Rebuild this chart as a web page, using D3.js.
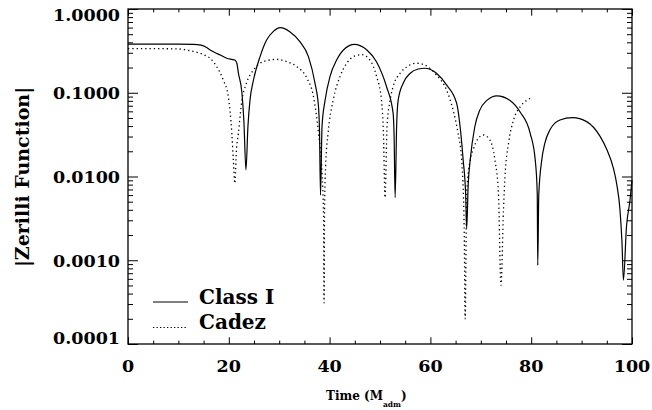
<!DOCTYPE html>
<html>
<head>
<meta charset="utf-8">
<script src="https://cdn.jsdelivr.net/npm/d3@7"></script>
<style>
  html, body { margin: 0; padding: 0; background: #fff; }
  svg { display: block; }
  text { font-family: "DejaVu Serif", serif; font-weight: bold; fill: #000; }
</style>
</head>
<body>
<svg id="chart" width="652" height="410"></svg>
<script>
// ---- data ----
const classTime = [0, 5, 10, 13, 14.5, 15.5, 16.3, 17.3, 18.3, 19.6, 20.6, 21.2, 21.6, 21.9, 22.6, 23.0, 23.4, 23.8, 24.2, 24.9, 26.2, 27.5, 28.8, 30.2, 32.1, 34.1, 35.8, 37.1, 37.8, 38.0, 38.2, 38.5, 39.1, 40.1, 41.4, 43.1, 44.9, 47.4, 49.3, 51.3, 52.6, 52.8, 53.0, 53.3, 53.6, 54.6, 56.0, 57.6, 58.9, 61.2, 63.2, 65.2, 65.9, 66.5, 67.0, 67.2, 67.5, 67.9, 68.8, 69.8, 71.2, 73.2, 75.8, 77.8, 79.8, 80.8, 81.2, 81.3, 81.5, 82.1, 82.7, 83.7, 85.7, 88.2, 91.0, 93.7, 95.0, 96.3, 97.0, 97.6, 98.0, 98.3, 98.9, 99.6, 100];
const classValue = [0.38, 0.38, 0.38, 0.379, 0.37, 0.35, 0.324, 0.3, 0.282, 0.258, 0.25, 0.246, 0.225, 0.172, 0.1, 0.045, 0.012, 0.04, 0.081, 0.142, 0.27, 0.426, 0.536, 0.598, 0.536, 0.407, 0.27, 0.13, 0.068, 0.034, 0.006, 0.04, 0.081, 0.158, 0.246, 0.34, 0.379, 0.324, 0.235, 0.118, 0.057, 0.03, 0.0056, 0.04, 0.081, 0.13, 0.171, 0.192, 0.196, 0.171, 0.124, 0.075, 0.039, 0.0158, 0.006, 0.0024, 0.008, 0.0158, 0.039, 0.062, 0.081, 0.092, 0.081, 0.059, 0.0328, 0.0158, 0.0063, 0.00087, 0.006, 0.0158, 0.0249, 0.0359, 0.0473, 0.0504, 0.0452, 0.0299, 0.021, 0.0126, 0.0079, 0.0041, 0.0017, 0.00058, 0.0025, 0.0052, 0.009];

const cadezTime = [0, 5, 10.3, 11.6, 13, 14.3, 15.3, 16.3, 17.6, 18.9, 19.9, 20.6, 20.9, 21.2, 21.5, 21.9, 22.6, 23.5, 24.9, 26.8, 29.5, 31.5, 33.5, 35.5, 36.8, 37.8, 38.5, 38.8, 38.9, 39.0, 39.2, 39.7, 40.7, 42.1, 43.4, 45.0, 46.4, 48.0, 49.3, 50.3, 50.7, 51.0, 51.4, 52.0, 52.6, 54.0, 55.6, 57.3, 58.9, 61.2, 63.2, 64.5, 65.4, 66.2, 66.7, 66.9, 67.2, 67.9, 68.5, 69.5, 70.5, 71.8, 72.8, 73.5, 74.0, 74.5, 74.8, 75.5, 76.5, 77.8, 79.1, 79.8];
const cadezValue = [0.336, 0.336, 0.333, 0.324, 0.312, 0.296, 0.28, 0.258, 0.205, 0.142, 0.09, 0.0328, 0.0158, 0.0083, 0.02, 0.0328, 0.081, 0.13, 0.187, 0.235, 0.25, 0.235, 0.205, 0.149, 0.09, 0.0328, 0.011, 0.0033, 0.00031, 0.004, 0.013, 0.0328, 0.081, 0.158, 0.225, 0.275, 0.285, 0.246, 0.158, 0.081, 0.03, 0.0056, 0.04, 0.081, 0.118, 0.171, 0.209, 0.225, 0.214, 0.163, 0.108, 0.062, 0.035, 0.0158, 0.0025, 0.0002, 0.0063, 0.0158, 0.021, 0.0286, 0.0313, 0.0273, 0.0158, 0.0063, 0.0005, 0.004, 0.01, 0.0249, 0.0473, 0.068, 0.081, 0.0855];

const xTickLabels = [0, 20, 40, 60, 80, 100];
const yTickLabels = [0.0001, 0.001, 0.01, 0.1, 1];
const seriesNames = ["Class I", "Cadez"];

// ---- layout ----
const svg = d3.select("#chart");
const L = 128, R = 632, T = 9, B = 344;
const x = d3.scaleLinear().domain([0, 100]).range([L, R]);
const y = d3.scaleLog().domain([0.0001, 1]).range([B, T]);

// minor ticks
const yMinor = [];
yTickLabels.slice(0, -1).forEach(d => { for (let k = 2; k <= 9; k++) yMinor.push(d * k); });
const xMinor = d3.range(0, 101, 5).filter(v => v % 20 !== 0);

const g = svg.append("g");

function styleAxis(sel) {
  sel.select(".domain").remove();
  sel.selectAll("text").remove();
  sel.selectAll("line").attr("stroke", "#000").attr("stroke-width", 1);
}

// left axis (ticks inward)
g.append("g").attr("transform", `translate(${L},0)`)
  .call(d3.axisLeft(y).tickValues(yTickLabels).tickSizeInner(-10).tickSizeOuter(0)).call(styleAxis);
g.append("g").attr("transform", `translate(${L},0)`)
  .call(d3.axisLeft(y).tickValues(yMinor).tickSizeInner(-5).tickSizeOuter(0)).call(styleAxis);
// right axis
g.append("g").attr("transform", `translate(${R},0)`)
  .call(d3.axisRight(y).tickValues(yTickLabels).tickSizeInner(-10).tickSizeOuter(0)).call(styleAxis);
g.append("g").attr("transform", `translate(${R},0)`)
  .call(d3.axisRight(y).tickValues(yMinor).tickSizeInner(-5).tickSizeOuter(0)).call(styleAxis);
// bottom axis
g.append("g").attr("transform", `translate(0,${B})`)
  .call(d3.axisBottom(x).tickValues(xTickLabels).tickSizeInner(-6.7).tickSizeOuter(0)).call(styleAxis);
g.append("g").attr("transform", `translate(0,${B})`)
  .call(d3.axisBottom(x).tickValues(xMinor).tickSizeInner(-3.4).tickSizeOuter(0)).call(styleAxis);
// top axis
g.append("g").attr("transform", `translate(0,${T})`)
  .call(d3.axisTop(x).tickValues(xTickLabels).tickSizeInner(-6.7).tickSizeOuter(0)).call(styleAxis);
g.append("g").attr("transform", `translate(0,${T})`)
  .call(d3.axisTop(x).tickValues(xMinor).tickSizeInner(-3.4).tickSizeOuter(0)).call(styleAxis);

// frame
g.append("rect").attr("x", L).attr("y", T).attr("width", R - L).attr("height", B - T)
  .attr("fill", "none").attr("stroke", "#000").attr("stroke-width", 1.3);

// tick labels
const fmtY = d3.format(".4f");
g.selectAll(".ylab").data(yTickLabels).join("text")
  .attr("class", "ylab")
  .attr("x", L - 8)
  .attr("y", d => Math.min(Math.max(y(d), T + 5.5), B - 6.3) + 6.6)
  .attr("text-anchor", "end")
  .style("font-size", "17.5px")
  .text(d => fmtY(d));

g.selectAll(".xlab").data(xTickLabels).join("text")
  .attr("class", "xlab")
  .attr("x", d => x(d))
  .attr("y", 372)
  .attr("text-anchor", "middle")
  .style("font-size", "17.5px")
  .text(d => d);

// axis titles
const xt = g.append("text").attr("x", 326).attr("y", 400).style("font-size", "12px");
xt.append("tspan").text("Time (M");
xt.append("tspan").attr("dy", 7).style("font-size", "7.5px").text("adm");
xt.append("tspan").attr("dy", -7).text(")");

g.append("text")
  .attr("transform", `translate(${29},${177}) rotate(-90)`)
  .attr("text-anchor", "middle")
  .style("font-size", "19px")
  .text("|Zerilli Function|");

// curves
const line = d3.line().x(d => x(d[0])).y(d => y(d[1])).curve(d3.curveMonotoneX);
const classData = classTime.map((t, i) => [t, classValue[i]]);
const cadezData = cadezTime.map((t, i) => [t, cadezValue[i]]);

const plot = g.append("g");
plot.append("path").datum(classData).attr("d", line)
  .attr("fill", "none").attr("stroke", "#000").attr("stroke-width", 1.2);
plot.append("path").datum(cadezData).attr("d", line)
  .attr("fill", "none").attr("stroke", "#000").attr("stroke-width", 1.3)
  .attr("stroke-dasharray", "1.3,3");

// legend
const legY = [302, 327.5];
const leg = g.selectAll(".leg").data(seriesNames).join("g").attr("class", "leg");
leg.append("line")
  .attr("x1", 153).attr("x2", 188)
  .attr("y1", (d, i) => legY[i]).attr("y2", (d, i) => legY[i])
  .attr("stroke", "#000").attr("stroke-width", 1.2)
  .attr("stroke-dasharray", (d, i) => i === 1 ? "1.3,2.2" : null);
leg.append("text")
  .attr("x", 199).attr("y", (d, i) => legY[i] + 1.5)
  .style("font-size", "20px")
  .text(d => d);
</script>
</body>
</html>
